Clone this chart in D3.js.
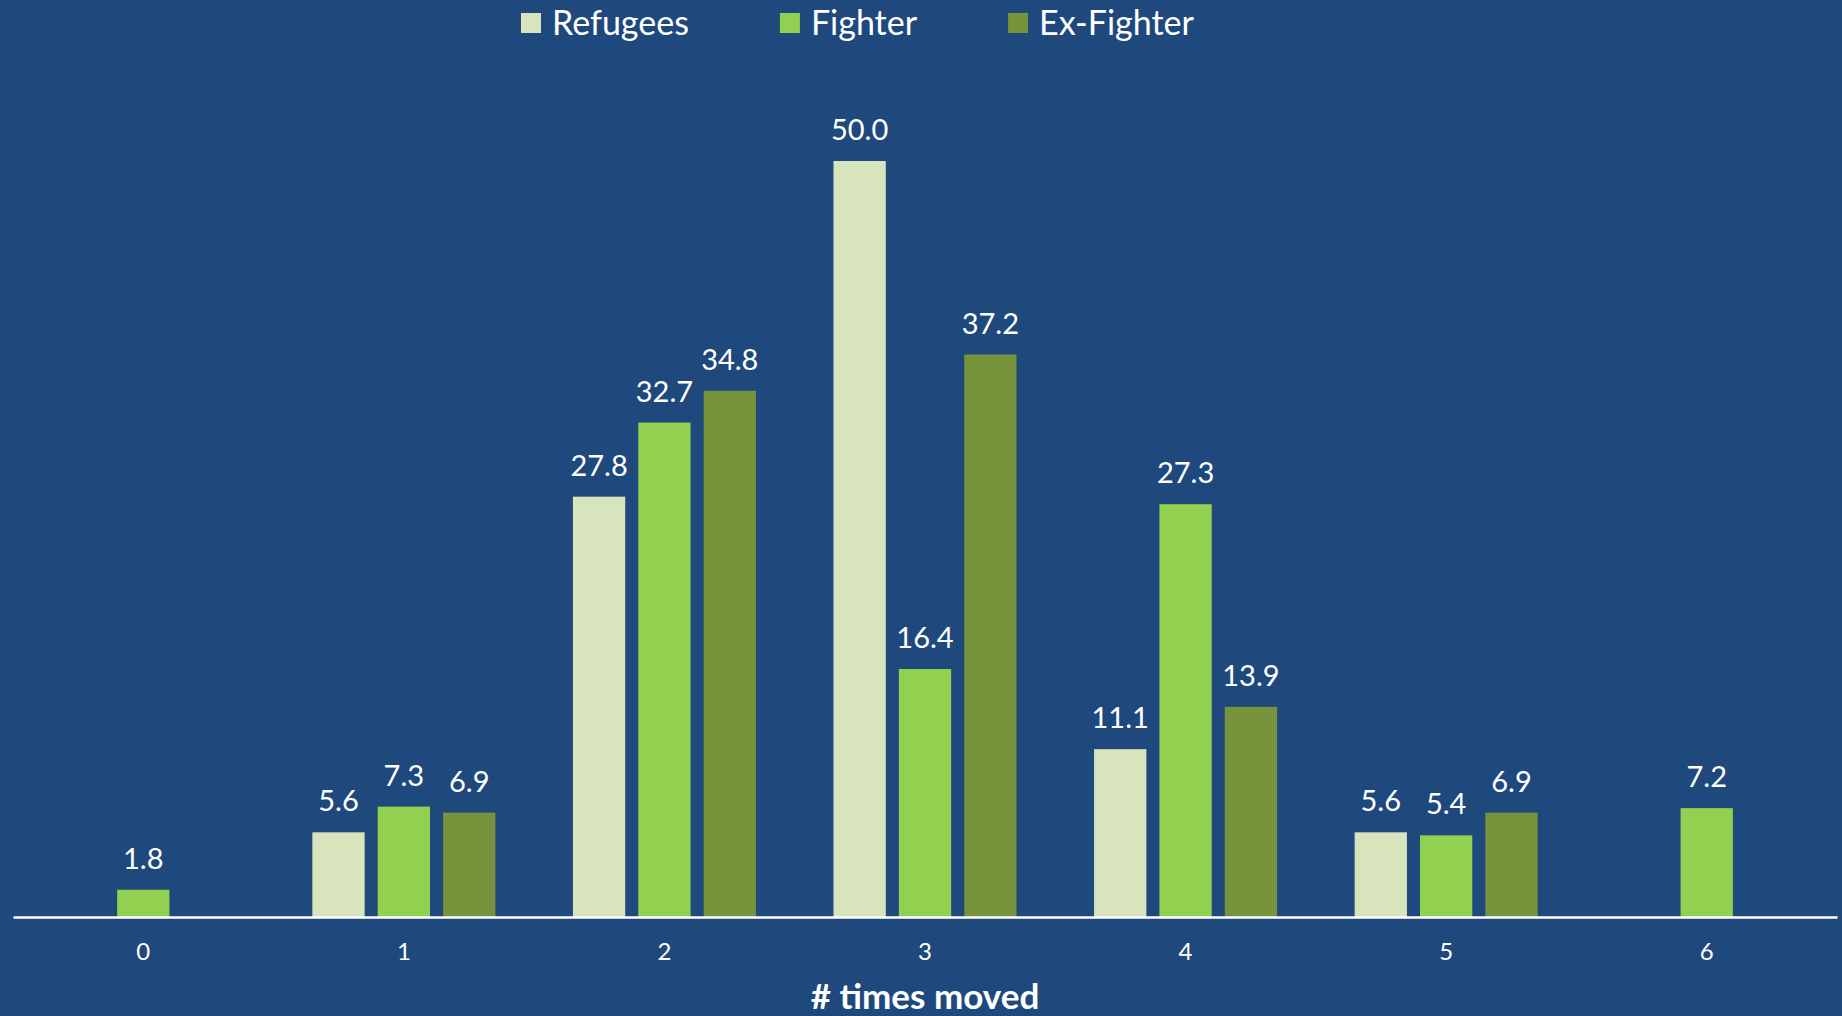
<!DOCTYPE html>
<html>
<head>
<meta charset="utf-8">
<script src="https://cdn.jsdelivr.net/npm/d3@7"></script>
<style>
  html, body { margin: 0; padding: 0; background: #1F497D; }
  svg { display: block; }
  text { font-family: Lato, "Open Sans", sans-serif; fill: #ffffff; }
</style>
</head>
<body>
<svg id="chart" width="1842" height="1016"></svg>
<script>
// data
const categories = ["0", "1", "2", "3", "4", "5", "6"];
const seriesNames = ["Refugees", "Fighter", "Ex-Fighter"];
const refugees  = [null, 5.6, 27.8, 50.0, 11.1, 5.6, null];
const fighter   = [1.8, 7.3, 32.7, 16.4, 27.3, 5.4, 7.2];
const exFighter = [null, 6.9, 34.8, 37.2, 13.9, 6.9, null];
const colors = ["#D8E4BC", "#92D050", "#77933C"];
const axisTitle = "# times moved";

const svg = d3.select("#chart"),
    width = +svg.attr("width"),
    height = +svg.attr("height");

const baseY = 917;

const x0 = d3.scaleBand()
    .domain(categories)
    .range([13, 1837])
    .padding(0);

const x1 = d3.scaleBand()
    .domain(seriesNames)
    .range([-91.5, 91.5])
    .paddingInner(0.2);

const y = d3.scaleLinear()
    .domain([0, 50])
    .range([baseY, 161]);

const color = d3.scaleOrdinal().domain(seriesNames).range(colors);

// flatten the three series into one list of bars
const allSeries = [refugees, fighter, exFighter];
let bars = [];
for (let s = 0; s < seriesNames.length; s++) {
    for (let i = 0; i < categories.length; i++) {
        const v = allSeries[s][i];
        if (v == null) continue;
        bars.push({cat: categories[i], series: seriesNames[s], value: v});
    }
}

function barX(d) {
    return x0(d.cat) + x0.bandwidth() / 2 + x1(d.series);
}

svg.append("g")
    .attr("class", "bars")
    .selectAll("rect")
    .data(bars)
    .enter().append("rect")
    .attr("x", barX)
    .attr("y", d => y(d.value))
    .attr("width", x1.bandwidth())
    .attr("height", d => y(0) - y(d.value))
    .attr("fill", d => color(d.series));

// value labels
svg.append("g")
    .attr("class", "labels")
    .selectAll("text")
    .data(bars)
    .enter().append("text")
    .attr("x", d => barX(d) + x1.bandwidth() / 2)
    .attr("y", d => y(d.value) - 21)
    .attr("text-anchor", "middle")
    .style("font-size", "29px")
    .text(d => d.value.toFixed(1));

// x axis
const xAxis = svg.append("g")
    .attr("transform", "translate(0," + baseY + ")")
    .call(d3.axisBottom(x0).tickSize(0).tickPadding(26));

xAxis.select(".domain")
    .attr("stroke", "#ffffff")
    .attr("stroke-width", 2.5);
xAxis.selectAll("text")
    .style("font-size", "24px")
    .style("font-family", "Lato, sans-serif")
    .attr("fill", "#ffffff");

svg.append("text")
    .attr("x", (13 + 1837) / 2)
    .attr("y", 1009)
    .attr("text-anchor", "middle")
    .style("font-size", "35px")
    .style("font-weight", "bold")
    .text(axisTitle);

// legend
const legend = svg.append("g").attr("class", "legend");
let lx = 521;
seriesNames.forEach(function(name) {
    legend.append("rect")
        .attr("x", lx)
        .attr("y", 13)
        .attr("width", 20)
        .attr("height", 20)
        .attr("fill", color(name));
    const t = legend.append("text")
        .attr("x", lx + 31)
        .attr("y", 35)
        .style("font-size", "34px")
        .text(name);
    lx += 31 + t.node().getComputedTextLength() + 91;
});
</script>
</body>
</html>
